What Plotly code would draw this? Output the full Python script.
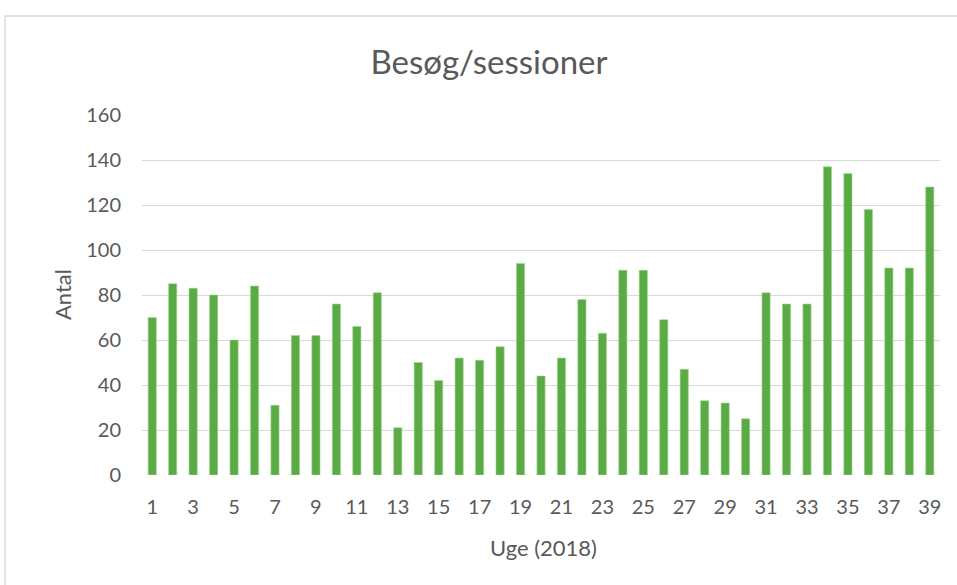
import plotly.graph_objects as go

weeks = list(range(1, 40))
visits = [70, 85, 83, 80, 60, 84, 31, 62, 62, 76, 66, 81, 21, 50, 42, 52, 51, 57, 94, 44,
          52, 78, 63, 91, 91, 69, 47, 33, 32, 25, 81, 76, 76, 137, 134, 118, 92, 92, 128]
x_ticks = list(range(1, 40, 2))
y_ticks = [0, 20, 40, 60, 80, 100, 120, 140, 160]

FONT = "Lato, Carlito, Calibri, sans-serif"
GREY = "#595959"

W, H = 957, 585
# plot area in screen px: x 142..940, y 115..475
L = 142
R = 957 - 940
T = 115
B = 585 - 475
pw, ph = W - L - R, H - T - B


def px(sx):
    return (sx - L) / pw


def py(sy):
    return (H - B - sy) / ph


fig = go.Figure(go.Bar(
    x=weeks, y=visits,
    marker=dict(color="#5aab45", line=dict(color="#9fd68f", width=0.6)),
    width=0.4,
))

fig.update_layout(
    width=W, height=H,
    margin=dict(l=L, r=R, t=T, b=B),
    paper_bgcolor="white", plot_bgcolor="white",
    showlegend=False,
    font=dict(family=FONT, color=GREY, size=20),
    title=dict(text="Besøg/sessioner", x=489 / W, xref="container",
               y=1 - 62 / H, yref="container", yanchor="middle", xanchor="center",
               font=dict(size=33, color=GREY, family=FONT)),
    xaxis=dict(range=[0.5, 39.5], tickmode="array", tickvals=x_ticks,
               ticktext=[str(v) for v in x_ticks], showgrid=False, showline=False,
               zeroline=False, ticks="", ticklabelstandoff=18,
               tickfont=dict(size=20, color=GREY)),
    yaxis=dict(range=[0, 160], tickmode="array", tickvals=y_ticks,
               showgrid=True, gridcolor="#d9d9d9", gridwidth=1.3, zeroline=False,
               showline=False, ticks="", ticklabelstandoff=20,
               tickfont=dict(size=20, color=GREY)),
    annotations=[
        dict(text="Antal", x=px(62), y=py(295), xref="paper", yref="paper",
             textangle=-90, showarrow=False, font=dict(size=22, color=GREY),
             xanchor="center", yanchor="middle"),
        dict(text="Uge (2018)", x=px(543), y=py(547), xref="paper", yref="paper",
             showarrow=False, font=dict(size=22, color=GREY),
             xanchor="center", yanchor="middle"),
    ],
    shapes=[
        dict(type="rect", xref="paper", yref="paper",
             x0=px(5), x1=px(975),
             y0=py(600), y1=py(16),
             line=dict(color="#d9d9d9", width=1.3), layer="below"),
    ],
)

fig.write_html("out.html", config={"displayModeBar": False},
               post_script="document.body.style.margin='0';document.body.style.overflow='hidden';")
